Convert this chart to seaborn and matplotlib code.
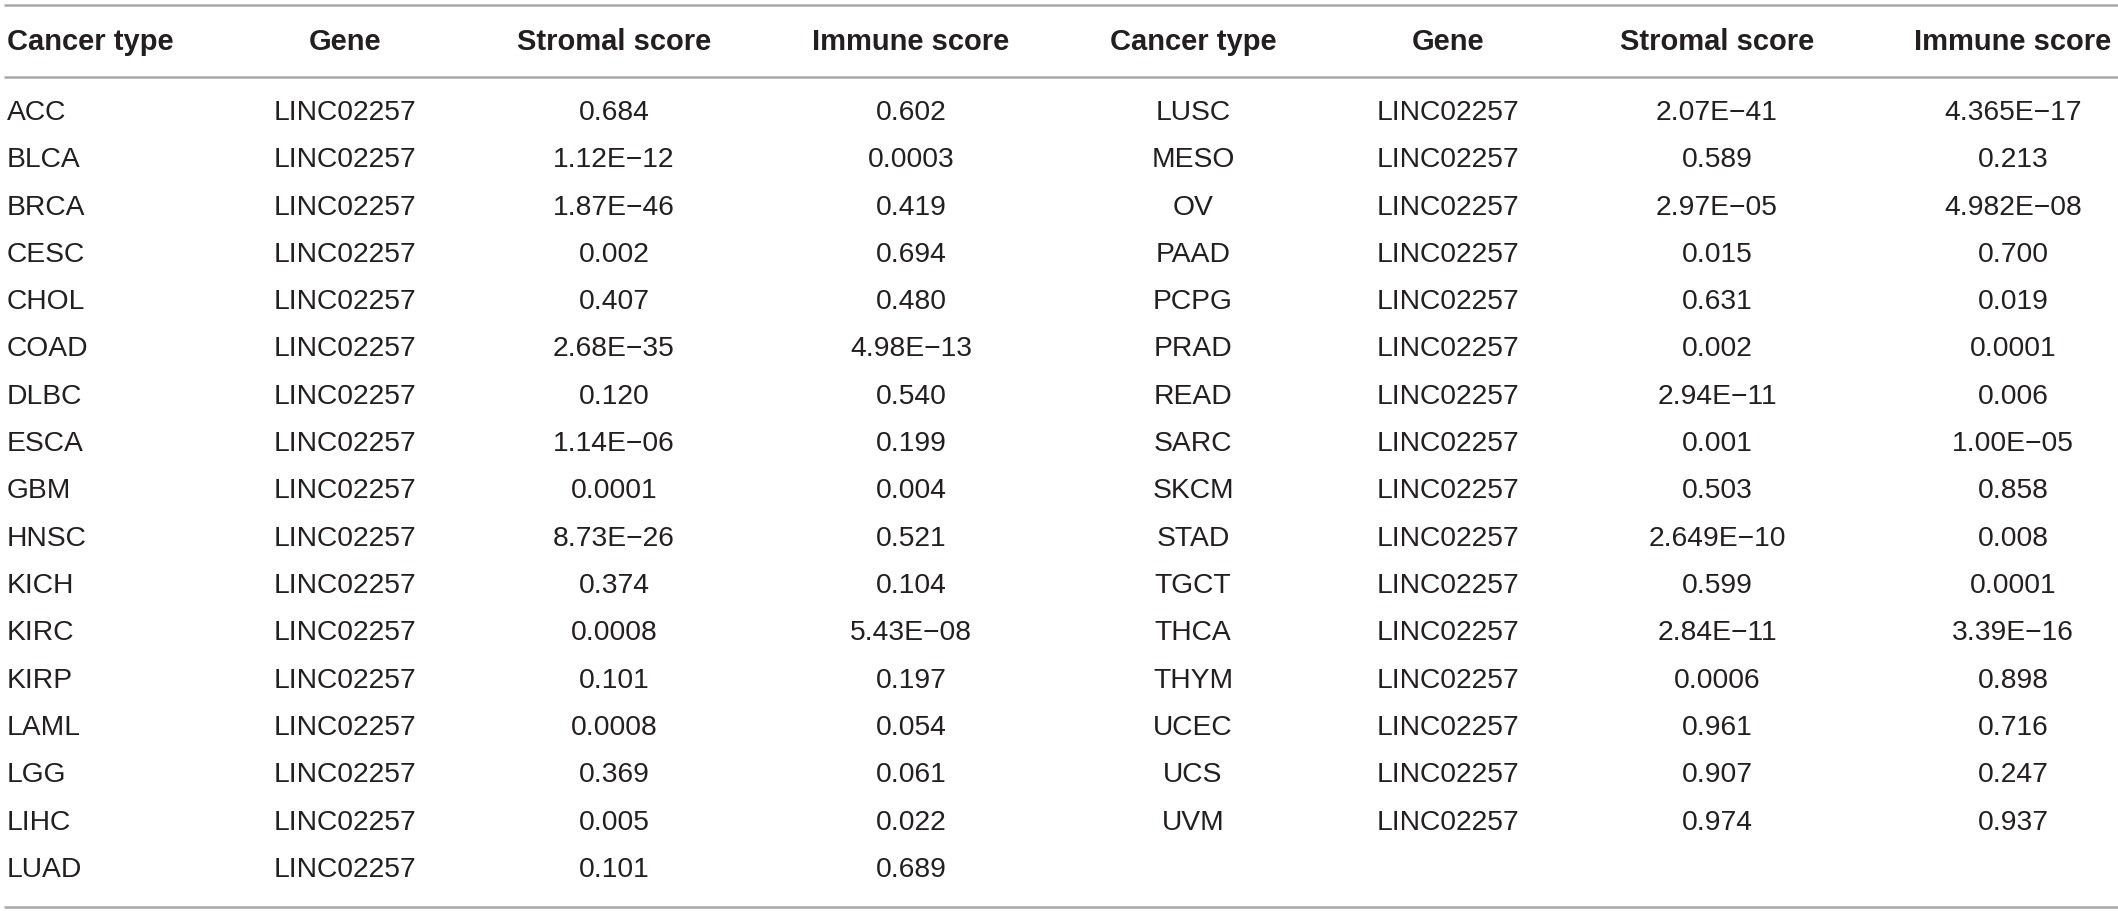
import matplotlib.pyplot as plt
import seaborn as sns

# Table content
headers = ['Cancer type', 'Gene', 'Stromal score', 'Immune score']
gene = 'LINC02257'

cancer_left = ['ACC', 'BLCA', 'BRCA', 'CESC', 'CHOL', 'COAD', 'DLBC', 'ESCA', 'GBM',
               'HNSC', 'KICH', 'KIRC', 'KIRP', 'LAML', 'LGG', 'LIHC', 'LUAD']
stromal_left = ['0.684', '1.12E\u221212', '1.87E\u221246', '0.002', '0.407', '2.68E\u221235',
                '0.120', '1.14E\u221206', '0.0001', '8.73E\u221226', '0.374', '0.0008',
                '0.101', '0.0008', '0.369', '0.005', '0.101']
immune_left = ['0.602', '0.0003', '0.419', '0.694', '0.480', '4.98E\u221213', '0.540',
               '0.199', '0.004', '0.521', '0.104', '5.43E\u221208', '0.197', '0.054',
               '0.061', '0.022', '0.689']

cancer_right = ['LUSC', 'MESO', 'OV', 'PAAD', 'PCPG', 'PRAD', 'READ', 'SARC', 'SKCM',
                'STAD', 'TGCT', 'THCA', 'THYM', 'UCEC', 'UCS', 'UVM']
stromal_right = ['2.07E\u221241', '0.589', '2.97E\u221205', '0.015', '0.631', '0.002',
                 '2.94E\u221211', '0.001', '0.503', '2.649E\u221210', '0.599', '2.84E\u221211',
                 '0.0006', '0.961', '0.907', '0.974']
immune_right = ['4.365E\u221217', '0.213', '4.982E\u221208', '0.700', '0.019', '0.0001',
                '0.006', '1.00E\u221205', '0.858', '0.008', '0.0001', '3.39E\u221216',
                '0.898', '0.716', '0.247', '0.937']

sns.set_theme(style="white")
plt.rcParams['font.family'] = ['Liberation Sans', 'DejaVu Sans']

W, H = 2118, 911
fig = plt.figure(figsize=(W / 100, H / 100), dpi=100)
ax = fig.add_axes([0, 0, 1, 1])
ax.set_xlim(0, W)
ax.set_ylim(H, 0)
ax.axis('off')

txt_color = '#231f20'
line_color = '#a8a8a8'
fs = 20.3
fs_head = 21

# column layout (x position, alignment)
cols_left = [(7, 'left'), (345, 'center'), (614, 'center'), (911, 'center')]
cols_right = [(1193, 'center'), (1448, 'center'), (1717, 'center'), (2013, 'center')]

header_y = 42
row_y0 = 113
row_h = 47.3

for cols in (cols_left, cols_right):
    for (x, ha), h in zip(cols, headers):
        ax.text(x, header_y, h, ha=ha, va='center', fontsize=fs_head,
                fontweight='bold', color=txt_color)


def draw_block(cols, cancers, stromal, immune):
    for i, (c, s, im) in enumerate(zip(cancers, stromal, immune)):
        y = row_y0 + i * row_h
        for (x, ha), val in zip(cols, [c, gene, s, im]):
            ax.text(x, y, val, ha=ha, va='center', fontsize=fs, color=txt_color)


draw_block(cols_left, cancer_left, stromal_left, immune_left)
draw_block(cols_right, cancer_right, stromal_right, immune_right)

for y in (5, 77, 907):
    ax.plot([4, W], [y, y], color=line_color, lw=1.8, solid_capstyle='butt')

fig.savefig('out.png', dpi=100)
